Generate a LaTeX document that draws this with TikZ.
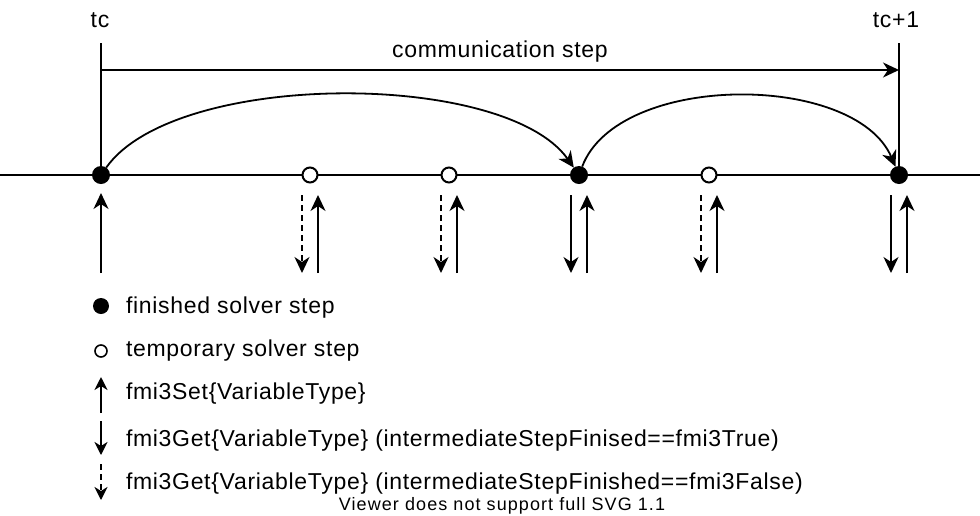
\documentclass[tikz,border=0pt]{standalone}
\usepackage{fontspec}
\setmainfont{Liberation Sans}
\usetikzlibrary{arrows.meta}
\begin{document}
\begin{tikzpicture}[x=1pt,y=-1pt,line width=2pt,
  every node/.style={inner sep=0pt,outer sep=0pt},
  lbl/.style={font=\fontsize{23}{27}\selectfont\addfontfeature{LetterSpace=3}},
  note/.style={font=\fontsize{18}{21}\selectfont\addfontfeature{LetterSpace=6}},
  fdot/.style={circle,fill=black,minimum size=18pt},
  odot/.style={circle,draw=black,fill=white,line width=2pt,minimum size=15pt,outer sep=1pt},
  bigtip/.style={-{Stealth[length=16pt,width=15pt,inset=5pt]}},
  smalltip/.style={-{Stealth[length=13pt,width=13pt,inset=4pt]}},
  dashline/.style={dash pattern=on 6pt off 4pt}]
\useasboundingbox (0,0) rectangle (980,515);

% time axis
\coordinate (axL) at (0,175);
\coordinate (axR) at (980,175);
\draw (axL) -- (axR);

% communication points
\coordinate (tcTop) at (101,43);
\coordinate (tnTop) at (899,43);
\coordinate (csL) at (101,70);
\coordinate (csR) at (899,70);
\draw (tcTop) -- (101,175);
\draw (tnTop) -- (899,175);
\node[lbl,anchor=base] (tc) at (100,27) {tc};
\node[lbl,anchor=base] (tn) at (896,27) {tc+1};
\draw[bigtip] (csL) -- (csR);
\node[lbl,anchor=base] (cs) at (500,57) {communication step};

% solver steps on the axis
\node[fdot] (d1) at (101,175) {};
\node[odot] (d2) at (310,175) {};
\node[odot] (d3) at (449,175) {};
\node[fdot] (d4) at (579,175) {};
\node[odot] (d5) at (709,175) {};
\node[fdot] (d6) at (899,175) {};

% finished steps
\draw[bigtip,line width=1.8pt] (d1) .. controls (175,70) and (505,70) .. (d4);
\draw[bigtip,line width=1.8pt] (d4) .. controls (618,72) and (855,72) .. (d6);

% calls below the axis
\coordinate (s1b) at (101,273);
\coordinate (s1t) at (101,193);
\draw[bigtip] (s1b) -- (s1t);
\foreach \n/\x in {d2/310,d3/449,d5/709} {
  \coordinate (\n-gt) at (\x-8,195);
  \coordinate (\n-gb) at (\x-8,273);
  \coordinate (\n-st) at (\x+8,195);
  \coordinate (\n-sb) at (\x+8,273);
  \draw[bigtip,dashline] (\n-gt) -- (\n-gb);
  \draw[bigtip] (\n-sb) -- (\n-st);
}
\foreach \n/\x in {d4/579,d6/899} {
  \coordinate (\n-gt) at (\x-8,195);
  \coordinate (\n-gb) at (\x-8,273);
  \coordinate (\n-st) at (\x+8,195);
  \coordinate (\n-sb) at (\x+8,273);
  \draw[bigtip] (\n-gt) -- (\n-gb);
  \draw[bigtip] (\n-sb) -- (\n-st);
}

% legend
\node[fdot,minimum size=16pt] (kf) at (101,306) {};
\node[lbl,anchor=base west] (kft) at (126,313) {finished solver step};
\node[odot,minimum size=12pt,line width=1.6pt] (ko) at (101,351) {};
\node[lbl,anchor=base west] (kot) at (126,356) {temporary solver step};
\coordinate (ksb) at (101,413);
\coordinate (kst) at (101,377);
\draw[smalltip] (ksb) -- (kst);
\node[lbl,anchor=base west] (kstx) at (126,399) {fmi3Set\{VariableType\}};
\coordinate (kgt) at (101,421);
\coordinate (kgb) at (101,455);
\draw[smalltip] (kgt) -- (kgb);
\node[lbl,anchor=base west] (kgtx) at (126,446) {fmi3Get\{VariableType\} (intermediateStepFinised==fmi3True)};
\coordinate (kdt) at (101,464);
\coordinate (kdb) at (101,500);
\draw[smalltip,dashline] (kdt) -- (kdb);
\node[lbl,anchor=base west] (kdtx) at (126,489) {fmi3Get\{VariableType\} (intermediateStepFinished==fmi3False)};
\node[note,anchor=base] (viewer) at (502,510) {Viewer does not support full SVG 1.1};
\end{tikzpicture}
\end{document}
